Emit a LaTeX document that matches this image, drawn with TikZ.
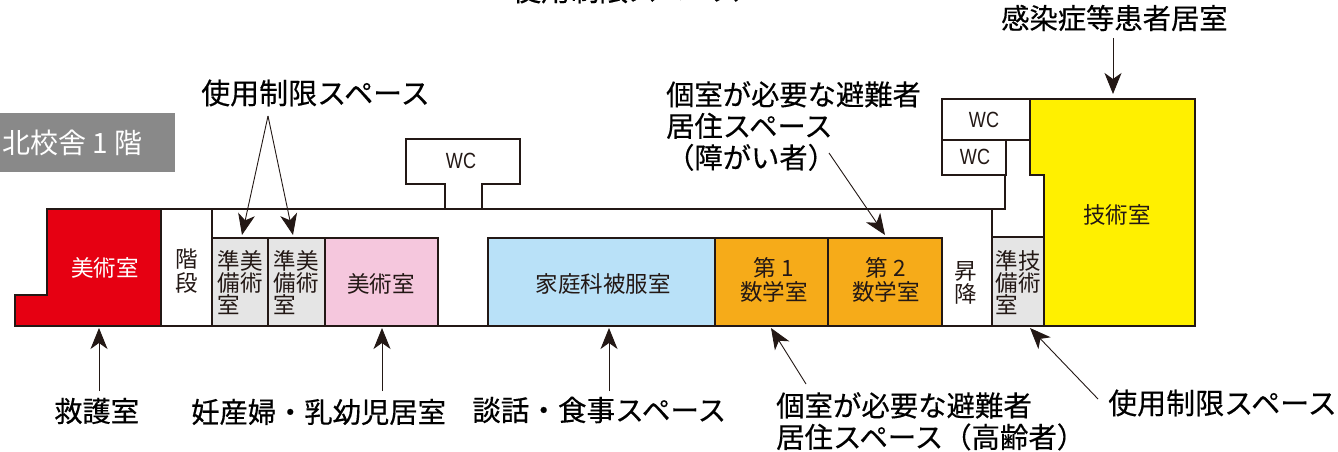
\documentclass[tikz,border=0pt]{standalone}
\usepackage{fontspec}
\setmainfont{Noto Sans CJK JP}
\newfontfamily\lblfont[FakeBold=0.35]{Noto Sans CJK JP}
\newfontfamily\latinf{Liberation Sans}
\usetikzlibrary{arrows.meta}
\definecolor{redroom}{HTML}{E60012}
\definecolor{greyroom}{HTML}{E5E5E5}
\definecolor{pinkroom}{HTML}{F5C7DD}
\definecolor{blueroom}{HTML}{B9E1F8}
\definecolor{orangeroom}{HTML}{F6AB19}
\definecolor{yellowroom}{HTML}{FFF000}
\definecolor{darkline}{HTML}{231815}
\definecolor{tagbg}{HTML}{898989}
\newcommand{\wclabel}{\scalebox{0.82}[1]{WC}}
\tikzset{
  wall/.style={draw=darkline,line width=2.4pt,line join=miter},
  room/.style={wall,inner sep=0pt,outer sep=0pt,anchor=north west},
  plain/.style={font=\fontsize{22.5}{22.5}\selectfont,align=center,inner sep=0pt,text=darkline},
  narrowtext/.style={font=\fontsize{22.5}{22}\selectfont,align=left,inner sep=0pt,text=darkline},
  wctext/.style={font=\latinf\fontsize{22}{22}\selectfont,inner sep=0pt,text=darkline},
  lbl/.style={font=\lblfont\fontsize{#1}{31.5}\selectfont,inner sep=0pt,anchor=west,align=left},
  lbl/.default=28.3,
  callout/.style={line width=0.9pt,draw=darkline,-{Stealth[length=21pt,width=17pt,inset=6pt]}},
}
\begin{document}
\begin{tikzpicture}[x=1pt,y=-1pt]
\path[use as bounding box,clip] (0,0) rectangle (1338,452);
\fill[white] (0,0) rectangle (1338,452);
% tag
\node[fill=tagbg,minimum width=175pt,minimum height=59pt,inner sep=0pt,outer sep=0pt,anchor=north west] (tag) at (0,113) {};
\node[text=white,font=\fontsize{28}{28}\selectfont,inner sep=0pt,anchor=west] (tagtext) at (2,143) {北校舎 1 階};
% corridor and outer lines
\draw[wall] (47,209) -- (1005,209) -- (1005,175);
\draw[wall] (15,326) -- (1195,326);
\draw[wall] (212,209) -- (212,238);
\draw[wall] (992,209) -- (992,326);
% WC annex
\draw[wall] (445,209) -- (445,184) -- (406,184) -- (406,139) -- (520,139) -- (520,184) -- (482,184) -- (482,209);
\node[wctext] (wca) at (461,161) {\wclabel};
\node[room,minimum width=88pt,minimum height=41pt] (wcb) at (942,99) {};
\node[wctext] at (984,120) {\wclabel};
\node[room,minimum width=64pt,minimum height=35pt] (wcc) at (942,140) {};
\node[wctext] at (975,157) {\wclabel};
% red room
\draw[wall,fill=redroom] (47,209) -- (161,209) -- (161,326) -- (15,326) -- (15,295) -- (47,295) -- cycle;
\node[plain,text=white] (art1) at (105,268) {美術室};
\node[plain] (stair) at (187,271) {階\\[2pt]段};
% rooms
\node[room,fill=greyroom,minimum width=56pt,minimum height=88pt] (g1) at (212,238) {};
\node[narrowtext] at (240,283) {準美\\備術\\室};
\node[room,fill=greyroom,minimum width=57pt,minimum height=88pt] (g2) at (268,238) {};
\node[narrowtext] at (296,283) {準美\\備術\\室};
\node[room,fill=pinkroom,minimum width=113pt,minimum height=88pt] (pink) at (325,238) {};
\node[plain] at (381,284) {美術室};
\node[room,fill=blueroom,minimum width=227pt,minimum height=88pt] (blue) at (488,238) {};
\node[plain] at (603,284) {家庭科被服室};
\node[room,fill=orangeroom,minimum width=113pt,minimum height=88pt] (m1) at (715,238) {};
\node[plain] at (774,280) {第 1\\[1pt]数学室};
\node[room,fill=orangeroom,minimum width=114pt,minimum height=88pt] (m2) at (828,238) {};
\node[plain] at (886,280) {第 2\\[1pt]数学室};
\node[plain] at (966,283) {昇\\[1pt]降};
% yellow
\draw[wall,fill=yellowroom] (1030,99) -- (1195,99) -- (1195,326) -- (1044,326) -- (1044,175) -- (1030,175) -- cycle;
\node[plain] (tech) at (1117,215) {技術室};
\node[room,fill=greyroom,minimum width=52pt,minimum height=89pt] (g3) at (992,237) {};
\node[narrowtext] at (1018,283) {準技\\備術\\室};
% labels
\node[lbl=29] (ltop) at (512,-10) {使用制限スペース};
\node[lbl=29] (l1) at (201,93) {使用制限スペース};
\node[lbl] (l2) at (54,411) {救護室};
\node[lbl] (l3) at (191,412) {妊産婦・乳幼児居室};
\node[lbl=28.6] (l4) at (472,410) {談話・食事スペース};
\node[lbl] (l5) at (1001,18) {感染症等患者居室};
\node[lbl,anchor=north west] (l6) at (666,81) {個室が必要な避難者\\居住スペース\\（障がい者）};
\node[lbl=28.4,anchor=north west] (l7) at (776,392) {個室が必要な避難者\\居住スペース（高齢者）};
\node[lbl=29] (l8) at (1108,403) {使用制限スペース};
% arrow ends
\coordinate (apex) at (268,116);
\coordinate (t1) at (242,235);
\coordinate (t2) at (293,235);
\coordinate (s2) at (99,391);  \coordinate (t3) at (99,328);
\coordinate (s3) at (382,391); \coordinate (t4) at (382,328);
\coordinate (s4) at (609,391); \coordinate (t5) at (609,328);
\coordinate (s5) at (1113,38); \coordinate (t6) at (1113,94);
\coordinate (s6) at (829,153); \coordinate (t7) at (885,235);
\coordinate (s7) at (806,384); \coordinate (t8) at (771,328);
\coordinate (s8) at (1098,399);\coordinate (t9) at (1030,328);
\draw[callout] (apex) -- (t1);
\draw[callout] (apex) -- (t2);
\draw[callout] (s2) -- (t3);
\draw[callout] (s3) -- (t4);
\draw[callout] (s4) -- (t5);
\draw[callout] (s5) -- (t6);
\draw[callout] (s6) -- (t7);
\draw[callout] (s7) -- (t8);
\draw[callout] (s8) -- (t9);
\end{tikzpicture}
\end{document}
